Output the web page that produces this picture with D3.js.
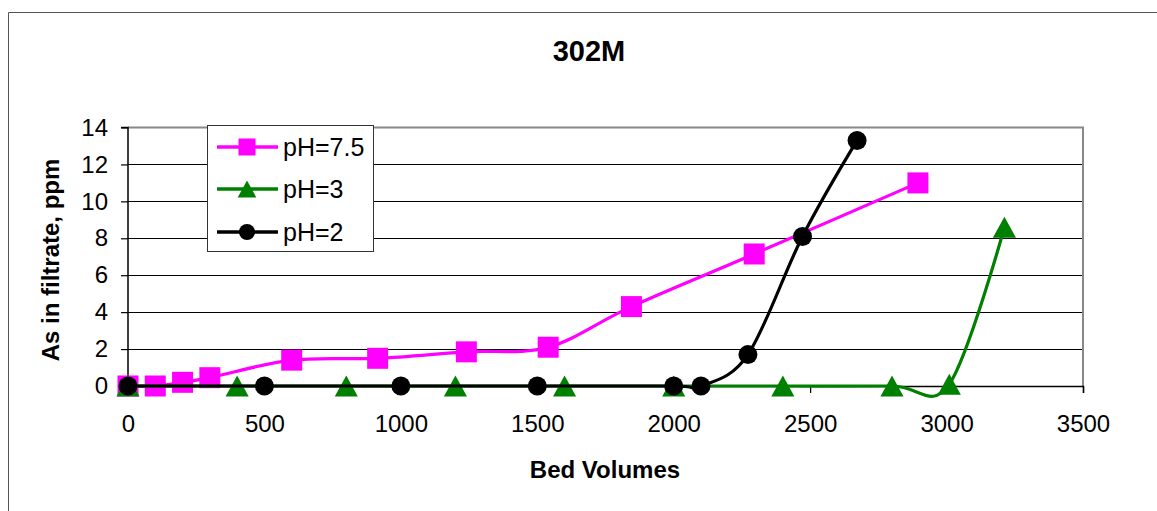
<!DOCTYPE html>
<html>
<head>
<meta charset="utf-8">
<script src="https://cdn.jsdelivr.net/npm/d3@7"></script>
<style>
  html, body { margin: 0; padding: 0; background: #fff; }
  svg { display: block; font-family: "Liberation Sans", Arial, sans-serif; }
</style>
</head>
<body>
<svg id="chart" width="1157" height="511"></svg>
<script>
// ---- data ----
const chartTitle = "302M";
const xTitle = "Bed Volumes";
const yTitle = "As in filtrate, ppm";
const xTicks = [0, 500, 1000, 1500, 2000, 2500, 3000, 3500];
const yTicks = [0, 2, 4, 6, 8, 10, 12, 14];
const seriesNames = ["pH=7.5", "pH=3", "pH=2"];

const ph75X = [0, 100, 200, 300, 600, 915, 1240, 1540, 1845, 2295, 2895];
const ph75Y = [0, 0, 0.2, 0.45, 1.4, 1.5, 1.85, 2.1, 4.3, 7.15, 11.0];

const ph3X = [0, 400, 800, 1200, 1600, 2000, 2400, 2800, 3010, 3212];
const ph3Y = [0, 0, 0, 0, 0, 0, 0, 0, 0.1, 8.6];

const ph2X = [0, 500, 1000, 1500, 2000, 2100, 2272, 2472, 2672];
const ph2Y = [0, 0, 0, 0, 0, 0, 1.7, 8.1, 13.3];

// ---- layout ----
const svg = d3.select("#chart");
const x = d3.scaleLinear().domain([0, 3500]).range([128, 1083]);
const y = d3.scaleLinear().domain([0, 14]).range([386, 127.5]);

// outer frame
svg.append("path")
  .attr("d", "M8.5,520 L8.5,12.5 L1170,12.5")
  .attr("fill", "none").attr("stroke", "#555").attr("stroke-width", 1);

// gridlines
svg.append("g").selectAll("line")
  .data(yTicks.filter(d => d > 0 && d < 14))
  .join("line")
  .attr("x1", x(0)).attr("x2", x(3500))
  .attr("y1", d => Math.round(y(d)) + 0.5).attr("y2", d => Math.round(y(d)) + 0.5)
  .attr("stroke", "#000").attr("stroke-width", 1);

// plot border top/right
svg.append("path")
  .attr("d", `M${x(0)},${y(14)} L${x(3500)},${y(14)} L${x(3500)},${y(0)}`)
  .attr("fill", "none").attr("stroke", "#888").attr("stroke-width", 2);

// axes
const xAxis = d3.axisBottom(x).tickValues(xTicks).tickSize(7).tickPadding(22).tickFormat(d3.format("d"));
const yAxis = d3.axisLeft(y).tickValues(yTicks).tickSize(7).tickPadding(13).tickFormat(d3.format("d"));

const gx = svg.append("g").attr("transform", `translate(0,${y(0)})`).call(xAxis);
const gy = svg.append("g").attr("transform", `translate(${x(0)},0)`).call(yAxis);
[gx, gy].forEach(g => {
  g.select(".domain").attr("stroke", "#000").attr("stroke-width", 1.5);
  g.selectAll(".tick line").attr("stroke", "#000").attr("stroke-width", 1.2);
  g.selectAll(".tick text").attr("fill", "#000")
    .style("font-family", "'Liberation Sans', Arial, sans-serif").style("font-size", "24px");
});
gy.select(".domain").attr("d", `M-7,${y(14)}H0V${y(0)}H-7`);

// titles
svg.append("text").attr("x", 589).attr("y", 61).attr("text-anchor", "middle")
  .style("font-size", "29px").style("font-weight", "bold").text(chartTitle);
svg.append("text").attr("x", 605).attr("y", 478).attr("text-anchor", "middle")
  .style("font-size", "24px").style("font-weight", "bold").text(xTitle);
svg.append("text").attr("transform", "translate(59,260) rotate(-90)").attr("text-anchor", "middle")
  .style("font-size", "24px").style("font-weight", "bold").text(yTitle);

// series
const colors = ["#FF00FF", "#008000", "#000000"];
const shapes = ["square", "triangle", "circle"];
const series = [
  { name: seriesNames[0], xs: ph75X, ys: ph75Y },
  { name: seriesNames[1], xs: ph3X, ys: ph3Y },
  { name: seriesNames[2], xs: ph2X, ys: ph2Y }
];

const line = d3.line().x(d => x(d[0])).y(d => y(d[1])).curve(d3.curveCardinal.tension(0));

function drawMarker(g, shape, cx, cy, color, size) {
  if (shape === "square") {
    g.append("rect").attr("x", cx - size / 2).attr("y", cy - size / 2)
      .attr("width", size).attr("height", size).attr("fill", color);
  } else if (shape === "circle") {
    g.append("circle").attr("cx", cx).attr("cy", cy).attr("r", size / 2).attr("fill", color);
  } else {
    const w = size * 1.1, h = size;
    g.append("path").attr("d", `M${cx},${cy - h / 2} L${cx + w / 2},${cy + h / 2} L${cx - w / 2},${cy + h / 2} Z`)
      .attr("fill", color);
  }
}

series.forEach((s, i) => {
  const pts = s.xs.map((v, j) => [v, s.ys[j]]);
  const g = svg.append("g");
  g.append("path").attr("d", line(pts)).attr("fill", "none")
    .attr("stroke", colors[i]).attr("stroke-width", 3.2);
  const sz = shapes[i] === "circle" ? 19 : 21;
  pts.forEach(p => drawMarker(g, shapes[i], x(p[0]), y(p[1]), colors[i], sz));
});

// legend
const lg = svg.append("g");
lg.append("rect").attr("x", 207.5).attr("y", 125.5).attr("width", 166).attr("height", 126)
  .attr("fill", "#fff").attr("stroke", "#333").attr("stroke-width", 1);
const rowsY = [147, 189, 232];
series.forEach((s, i) => {
  lg.append("line").attr("x1", 217).attr("x2", 278).attr("y1", rowsY[i]).attr("y2", rowsY[i])
    .attr("stroke", colors[i]).attr("stroke-width", 3.5);
  drawMarker(lg, shapes[i], 247, rowsY[i], colors[i], shapes[i] === "circle" ? 16 : 17);
  lg.append("text").attr("x", 283).attr("y", rowsY[i] + 9)
    .style("font-size", "25px").attr("fill", "#000").text(s.name);
});
</script>
</body>
</html>
